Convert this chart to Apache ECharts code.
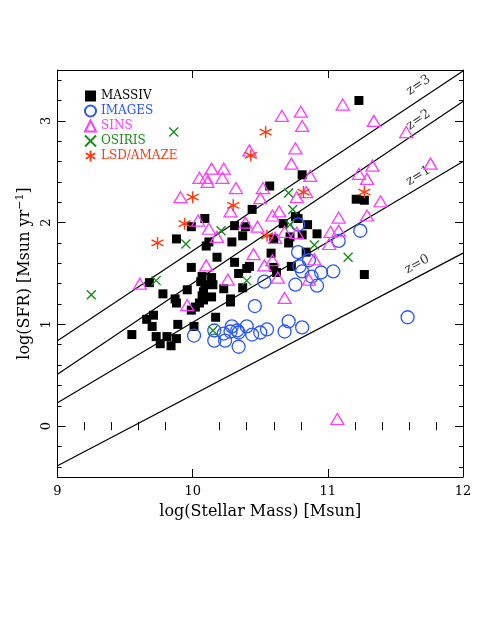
<!DOCTYPE html>
<html>
<head>
<meta charset="utf-8">
<script src="https://cdn.jsdelivr.net/npm/echarts@6/dist/echarts.min.js"></script>
<style>
  html, body { margin: 0; padding: 0; background: #fff; }
  #chart { width: 491px; height: 635px; }
</style>
</head>
<body>
<div id="chart"></div>
<script>
// tick values
const xMajor = [9, 10, 11, 12]
const yMajor = [0, 1, 2, 3]

// log(M*), log(SFR) per survey
const massiv = [
  [11.23, 3.20], [10.81, 2.47], [11.21, 2.23], [11.27, 2.22], [10.76, 2.06], [10.44, 2.13],
  [10.57, 2.36], [10.67, 1.99], [10.78, 2.04], [10.85, 1.98], [10.81, 1.88], [10.72, 1.86],
  [10.71, 1.80], [10.92, 1.89], [10.58, 1.70], [10.84, 1.71], [10.60, 1.56], [10.62, 1.51],
  [10.73, 1.57], [11.27, 1.49], [10.42, 1.57], [10.60, 1.84], [10.09, 2.04], [9.99, 1.96],
  [10.31, 1.97], [10.39, 1.96], [10.37, 1.87], [9.88, 1.84], [10.10, 1.77], [10.12, 1.81],
  [10.29, 1.81], [10.18, 1.66], [10.31, 1.61], [10.40, 1.55], [9.99, 1.56], [10.34, 1.50],
  [10.07, 1.47], [10.14, 1.46], [10.06, 1.42], [9.68, 1.41], [10.09, 1.39], [10.15, 1.39],
  [10.23, 1.35], [10.37, 1.36], [9.96, 1.34], [9.78, 1.30], [10.08, 1.32], [10.07, 1.28],
  [10.14, 1.27], [9.87, 1.25], [10.08, 1.24], [10.28, 1.25], [9.88, 1.21], [10.05, 1.21],
  [10.28, 1.22], [10.02, 1.17], [9.99, 1.14], [9.71, 1.09], [9.66, 1.05], [10.17, 1.07],
  [9.70, 0.98], [9.89, 1.00], [10.01, 0.98], [9.55, 0.90], [9.73, 0.88], [9.81, 0.88],
  [9.76, 0.81], [9.88, 0.86], [9.84, 0.79]
]
const images = [
  [10.78, 1.98], [11.24, 1.92], [11.08, 1.82], [10.78, 1.71], [10.86, 1.63], [10.79, 1.57],
  [10.81, 1.52], [10.88, 1.47], [10.95, 1.51], [11.04, 1.52], [10.53, 1.42], [10.76, 1.39],
  [10.92, 1.38], [10.46, 1.18], [11.59, 1.07], [10.71, 1.03], [10.68, 0.93], [10.81, 0.97],
  [10.01, 0.89], [10.16, 0.84], [10.24, 0.84], [10.34, 0.78], [10.23, 0.91], [10.28, 0.93],
  [10.34, 0.92], [10.44, 0.90], [10.50, 0.92], [10.55, 0.95], [10.16, 0.94], [10.29, 0.98],
  [10.40, 0.98], [10.33, 0.94]
]
const sins = [
  [10.42, 2.71], [10.14, 2.53], [10.23, 2.53], [10.05, 2.44], [10.10, 2.44], [10.11, 2.40],
  [10.22, 2.44], [10.32, 2.34], [9.91, 2.25], [10.28, 2.11], [10.04, 2.02], [10.66, 3.05],
  [10.80, 3.09], [11.11, 3.16], [11.34, 3.00], [10.81, 2.95], [11.58, 2.89], [10.76, 2.73],
  [10.73, 2.58], [11.33, 2.56], [11.76, 2.58], [10.87, 2.46], [11.23, 2.48], [11.29, 2.43],
  [10.52, 2.34], [10.50, 2.24], [10.84, 2.30], [10.77, 2.25], [11.39, 2.21], [10.64, 2.11],
  [10.59, 2.07], [11.08, 2.05], [11.29, 2.07], [10.48, 1.96], [10.68, 1.91], [10.77, 1.90],
  [10.61, 1.85], [11.02, 1.91], [11.08, 1.92], [11.01, 1.79], [10.45, 1.69], [10.59, 1.63],
  [10.90, 1.64], [10.53, 1.58], [10.63, 1.46], [10.86, 1.44], [10.68, 1.26], [10.12, 1.94],
  [10.18, 1.86], [10.39, 2.00], [10.10, 1.58], [10.26, 1.44], [9.61, 1.40], [9.96, 1.19],
  [11.07, 0.07]
]
const osiris = [
  [9.86, 2.89], [9.25, 1.29], [9.73, 1.43], [9.95, 1.79], [10.21, 1.92], [10.40, 1.43],
  [10.15, 0.94], [10.71, 2.29], [10.74, 2.13], [10.72, 1.98], [10.90, 1.78], [11.15, 1.66]
]
const lsd = [
  [10.54, 2.89], [10.43, 2.66], [10.00, 2.25], [10.30, 2.17], [9.94, 1.99], [9.74, 1.80],
  [10.82, 2.30], [11.27, 2.30], [10.55, 1.87]
]

// main-sequence relations at z=0..3: log(SFR) at log(M)=9 and 12
const zNames = ['z=0', 'z=1', 'z=2', 'z=3']
const zAt9 = [-0.39, 0.23, 0.51, 0.84]
const zAt12 = [1.70, 2.60, 3.19, 3.49]
// label anchor (x, y) and angle for each relation
const zLabelPos = [[11.66, 1.59, 28], [11.67, 2.46, 31], [11.67, 3.01, 34], [11.67, 3.35, 34]]

const FONT = 'DejaVu Serif'
const BLUE = '#2a55ff'
const MAGENTA = '#ff3cff'
const GREEN = '#1a8c1a'
const RED = '#ff3a10'

function minorTicks(lo, hi, majors) {
  const out = []
  for (let i = Math.round(lo * 5); i <= Math.round(hi * 5); i++) {
    const v = i / 5
    if (majors.indexOf(v) < 0) out.push(v)
  }
  return out
}
const xMinor = minorTicks(9, 12, xMajor)
const yMinor = minorTicks(-0.4, 3.4, yMajor)

function frameAxis(dim, pos, ticks, len, opts) {
  const isX = dim === 'x'
  return Object.assign({
    type: 'value',
    position: pos,
    min: isX ? 9 : -0.5,
    max: isX ? 12 : 3.5,
    axisLine: { show: true, onZero: false, lineStyle: { color: '#000', width: 1 } },
    axisTick: { show: true, inside: true, length: len, customValues: ticks, lineStyle: { color: '#000', width: 1 } },
    axisLabel: { show: false },
    splitLine: { show: false }
  }, opts || {})
}

const chart = echarts.init(document.getElementById('chart'))

const lineSeries = zNames.map((n, i) => ({
  name: n,
  type: 'line',
  data: [[9, zAt9[i]], [12, zAt12[i]]],
  symbol: 'none',
  lineStyle: { color: '#000', width: 1.2 },
  silent: true,
  z: 1
}))

chart.setOption({
  animation: false,
  grid: { left: 57.5, right: 28, top: 70, bottom: 158 },
  legend: {
    orient: 'vertical',
    left: 79,
    top: 84,
    itemWidth: 11,
    itemHeight: 11,
    itemGap: 1,
    textStyle: { fontFamily: FONT, fontSize: 12, lineHeight: 14 },
    data: [
      { name: 'MASSIV', textStyle: { color: '#000' } },
      { name: 'IMAGES', textStyle: { color: BLUE } },
      { name: 'SINS', textStyle: { color: MAGENTA } },
      { name: 'OSIRIS', textStyle: { color: GREEN } },
      { name: 'LSD/AMAZE', textStyle: { color: RED } }
    ]
  },
  xAxis: [
    frameAxis('x', 'bottom', xMajor, 8, {
      axisLabel: { show: true, customValues: xMajor, color: '#000', fontFamily: FONT, fontSize: 13, margin: 8 },
      name: 'log(Stellar Mass) [Msun]',
      nameLocation: 'middle',
      nameGap: 27,
      nameTextStyle: { color: '#000', fontFamily: FONT, fontSize: 16 }
    }),
    frameAxis('x', 'bottom', xMinor, 4, { axisLine: { show: false } }),
    frameAxis('x', 'top', xMajor, 8),
    frameAxis('x', 'top', xMinor, 4, { axisLine: { show: false } })
  ],
  yAxis: [
    frameAxis('y', 'left', yMajor, 8, {
      axisLabel: { show: true, customValues: yMajor, rotate: 90, color: '#000', fontFamily: FONT, fontSize: 13, margin: 4 },
      name: '{a|log(SFR) [Msun yr}{s|−1}{a|]}',
      nameLocation: 'middle',
      nameGap: 15,
      nameRotate: 90,
      nameTextStyle: {
        rich: {
          a: { fontFamily: FONT, fontSize: 16, color: '#000' },
          s: { fontFamily: FONT, fontSize: 11, color: '#000', verticalAlign: 'top', padding: [0, 0, 8, 0] }
        }
      }
    }),
    frameAxis('y', 'left', yMinor, 4, { axisLine: { show: false } }),
    frameAxis('y', 'right', yMajor, 8),
    frameAxis('y', 'right', yMinor, 4, { axisLine: { show: false } })
  ],
  series: lineSeries.concat([
    {
      name: 'zlabels',
      type: 'scatter',
      symbolSize: 0,
      silent: true,
      data: zLabelPos.map((p, i) => ({
        value: [p[0], p[1]],
        label: {
          show: true,
          position: 'inside',
          formatter: zNames[i],
          rotate: p[2],
          fontFamily: FONT,
          fontSize: 13,
          color: '#000'
        }
      }))
    },
    {
      name: 'MASSIV',
      type: 'scatter',
      symbol: 'rect',
      symbolSize: 9,
      itemStyle: { color: '#000', opacity: 1 },
      data: massiv,
      z: 3
    },
    {
      name: 'IMAGES',
      type: 'scatter',
      symbol: 'circle',
      symbolSize: 13,
      itemStyle: { color: 'rgba(0,0,0,0)', borderColor: BLUE, borderWidth: 1.3, opacity: 1 },
      data: images,
      z: 4
    },
    {
      name: 'SINS',
      type: 'scatter',
      symbol: 'triangle',
      symbolSize: [13, 11],
      itemStyle: { color: 'rgba(0,0,0,0)', borderColor: MAGENTA, borderWidth: 1.3, opacity: 1 },
      data: sins,
      z: 5
    },
    {
      name: 'OSIRIS',
      type: 'scatter',
      symbol: 'path://M0,0L10,10M10,0L0,10',
      symbolSize: 9,
      itemStyle: { color: GREEN, borderColor: GREEN, borderWidth: 1.4, opacity: 1 },
      data: osiris,
      z: 6
    },
    {
      name: 'LSD/AMAZE',
      type: 'scatter',
      symbol: 'path://M5,0L5,10M0.67,2.5L9.33,7.5M0.67,7.5L9.33,2.5',
      symbolSize: 12,
      itemStyle: { color: RED, borderColor: RED, borderWidth: 1.4, opacity: 1 },
      data: lsd,
      z: 7
    }
  ])
})
</script>
</body>
</html>
